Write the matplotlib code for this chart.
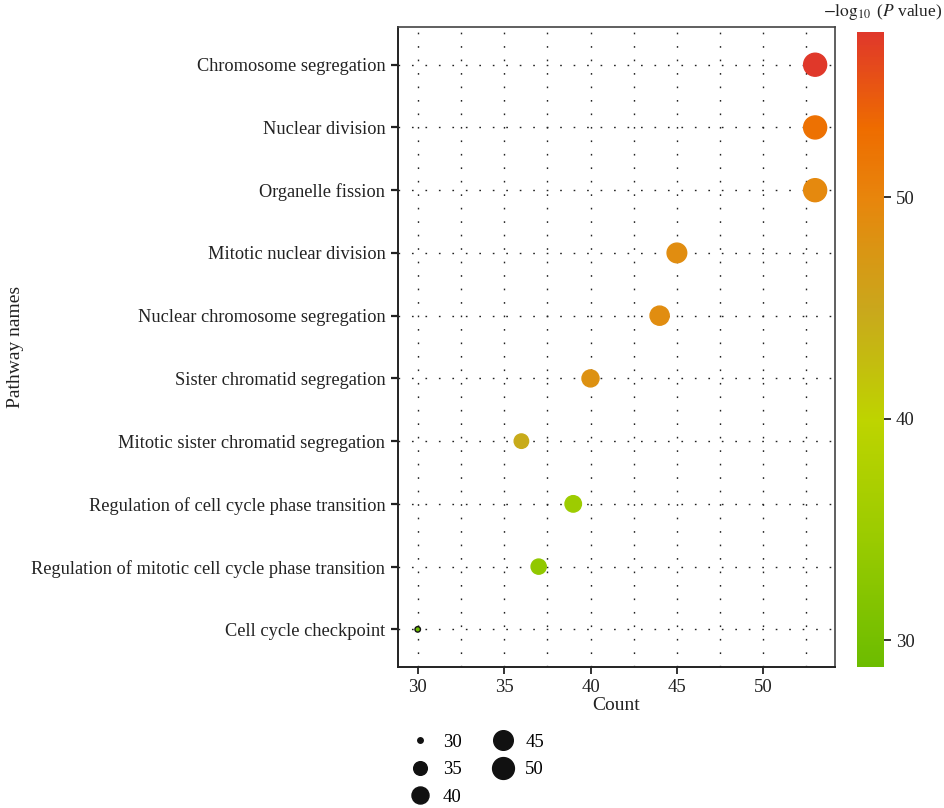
import numpy as np
import matplotlib
matplotlib.use('Agg')
import matplotlib.pyplot as plt
from matplotlib.colors import LinearSegmentedColormap, Normalize
from matplotlib.ticker import MultipleLocator
from matplotlib.lines import Line2D

plt.rcParams['font.family'] = ['Liberation Serif', 'DejaVu Serif']
plt.rcParams['mathtext.fontset'] = 'stix'

pathways = [
    'Chromosome segregation',
    'Nuclear division',
    'Organelle fission',
    'Mitotic nuclear division',
    'Nuclear chromosome segregation',
    'Sister chromatid segregation',
    'Mitotic sister chromatid segregation',
    'Regulation of cell cycle phase transition',
    'Regulation of mitotic cell cycle phase transition',
    'Cell cycle checkpoint',
]
counts = [53, 53, 53, 45, 44, 40, 36, 39, 37, 30]
neglog_p = [57.4, 52.5, 49.5, 48.8, 48.8, 48.2, 44.5, 35.0, 33.5, 28.8]

size_breaks = [30, 35, 40, 45, 50]
cbar_ticks = [30, 40, 50]

# green -> yellow -> orange -> red
cmap = LinearSegmentedColormap.from_list('pval', [
    (0.00, '#6CBC00'),
    (0.20, '#9ACB00'),
    (0.39, '#BED400'),
    (0.56, '#C9A81C'),
    (0.74, '#E8850C'),
    (0.85, '#EE6C00'),
    (1.00, '#E0382A'),
])
vmin, vmax = 28.8, 57.45
norm = Normalize(vmin, vmax)

cmin, cmax = min(counts), max(counts)


def marker_area(c):
    # ggplot-style area scale: diameter grows with sqrt of rescaled value
    t = (np.asarray(c, float) - cmin) / (cmax - cmin)
    d_px = 5.5 + 17.5 * np.sqrt(t)
    return (d_px * 0.72) ** 2


fig = plt.figure(figsize=(9.45, 8.08), dpi=100)
ax = fig.add_axes([0.421, 0.1745, 0.4626, 0.792])

n = len(pathways)
ypos = np.arange(n)[::-1]

ax.set_xlim(28.85, 54.15)
ax.set_ylim(-0.6, n - 0.4)
ax.xaxis.set_major_locator(MultipleLocator(5))
ax.xaxis.set_minor_locator(MultipleLocator(2.5))
dots = dict(linestyle=(0, (1.2, 8.5)), color='#222222', linewidth=1.0)
ax.grid(True, which='major', axis='both', **dots)
ax.grid(True, which='minor', axis='x', **dots)
ax.set_axisbelow(True)

colors = cmap(norm(neglog_p))
edges = [c if cnt > cmin else '#111111' for c, cnt in zip(colors, counts)]
ax.scatter(counts, ypos, s=marker_area(counts), c=colors, edgecolors=edges,
           linewidths=1.0, zorder=3)

ax.set_yticks(ypos)
ax.set_yticklabels(pathways, fontsize=13.2, color='#222222')
ax.set_xticks([30, 35, 40, 45, 50])
ax.tick_params(axis='x', which='major', labelsize=13.5, length=5, width=1.3, colors='#222222')
ax.tick_params(axis='x', which='minor', length=0)
ax.tick_params(axis='y', length=5, width=1.6, pad=4, colors='#222222')
ax.set_xlabel('Count', fontsize=14, labelpad=1, color='#222222')
ax.set_ylabel('Pathway names', fontsize=14, color='#222222')
ax.yaxis.set_label_coords(-0.855, 0.5)
for side in ['left', 'bottom']:
    ax.spines[side].set_color('#222222')
    ax.spines[side].set_linewidth(1.4)
for side in ['top', 'right']:
    ax.spines[side].set_color('#444444')
    ax.spines[side].set_linewidth(1.2)

# colour bar
cax = fig.add_axes([0.907, 0.1745, 0.0286, 0.7855])
sm = plt.cm.ScalarMappable(norm=norm, cmap=cmap)
cb = fig.colorbar(sm, cax=cax, ticks=cbar_ticks)
cb.outline.set_visible(False)
cax.tick_params(labelsize=13.5, length=5, width=1.3, colors='#222222')
fig.text(0.997, 0.986, r'$-\log_{10}$ ($P$ value)', ha='right', va='center',
         fontsize=12.5, color='#222222')

# size legend
handles = [Line2D([], [], linestyle='none', marker='o', color='#111111',
                  markersize=np.sqrt(marker_area(b)))
           for b in size_breaks]
fig.legend(handles, [str(b) for b in size_breaks], ncol=2, frameon=False,
           loc='upper left', bbox_to_anchor=(0.415, 0.113),
           fontsize=13.5, handletextpad=0.6, columnspacing=1.6, labelspacing=0.55,
           handlelength=1.2)

fig.savefig('out.png', dpi=100)
